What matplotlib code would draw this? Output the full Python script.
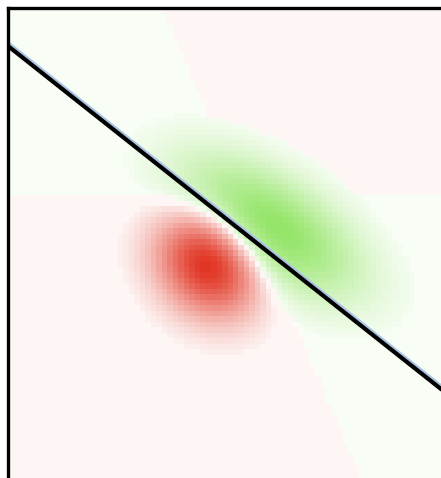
import numpy as np
import matplotlib.pyplot as plt
from matplotlib.colors import LinearSegmentedColormap

# class blobs (data units, y up): centre, sd along major / minor axis, angle (deg), weight
red_center = [4.02, 4.7]
red_sd = [0.74, 0.62]
red_angle = -48
red_weight = 1.05

green_center = [5.22, 5.42]
green_sd = [1.3, 0.64]
green_angle = -33
green_weight = 0.72

# faint background split: horizontal level and slanted boundary (two points)
bg_level = 6.06
bg_slant = [[3.1, 9.76], [7.06, 0.4]]
bg_weight = 0.045
cutoff = 0.07
gamma = 0.75

# decision line (two points)
line_x = [0.0, 9.0]
line_y = [9.04, 1.91]

nx, ny = 82, 89
xmax, ymax = 9.0, 9.8


def blob(X, Y, c, sd, ang, w):
    t = np.deg2rad(ang)
    dx, dy = X - c[0], Y - c[1]
    u = dx * np.cos(t) + dy * np.sin(t)
    v = -dx * np.sin(t) + dy * np.cos(t)
    return w * np.exp(-0.5 * ((u / sd[0]) ** 2 + (v / sd[1]) ** 2))


xs = (np.arange(nx) + 0.5) * xmax / nx
ys = (np.arange(ny) + 0.5) * ymax / ny
X, Y = np.meshgrid(xs, ys)

(x1, y1), (x2, y2) = bg_slant
xline = x1 + (Y - y1) * (x2 - x1) / (y2 - y1)
bg = np.sign((Y - bg_level) * (X - xline)) * bg_weight

field = (blob(X, Y, red_center, red_sd, red_angle, red_weight)
         - blob(X, Y, green_center, green_sd, green_angle, green_weight))
field = np.sign(field) * np.abs(field) ** gamma
field = np.where(np.abs(field) > cutoff, field, bg)

cmap = LinearSegmentedColormap.from_list('rg', ['#6edc32', '#ffffff', '#e13220'], N=256)

fig = plt.figure(figsize=(4.41, 4.78), dpi=100)
ax = fig.add_axes([8 / 441, -20 / 478, 450 / 441, 490 / 478])
ax.imshow(field, cmap=cmap, vmin=-1, vmax=1, origin='lower',
          extent=[0, xmax, 0, ymax], interpolation='nearest', aspect='auto')

ax.plot(line_x, [y + 0.06 for y in line_y], color='#a9c4e4', lw=2.5, solid_capstyle='butt')
ax.plot(line_x, line_y, color='black', lw=3.0, solid_capstyle='butt')

ax.set_xlim(0, xmax)
ax.set_ylim(0, ymax)
ax.set_xticks([])
ax.set_yticks([])
for s in ax.spines.values():
    s.set_linewidth(2.4)

fig.savefig('out.png', dpi=100)
